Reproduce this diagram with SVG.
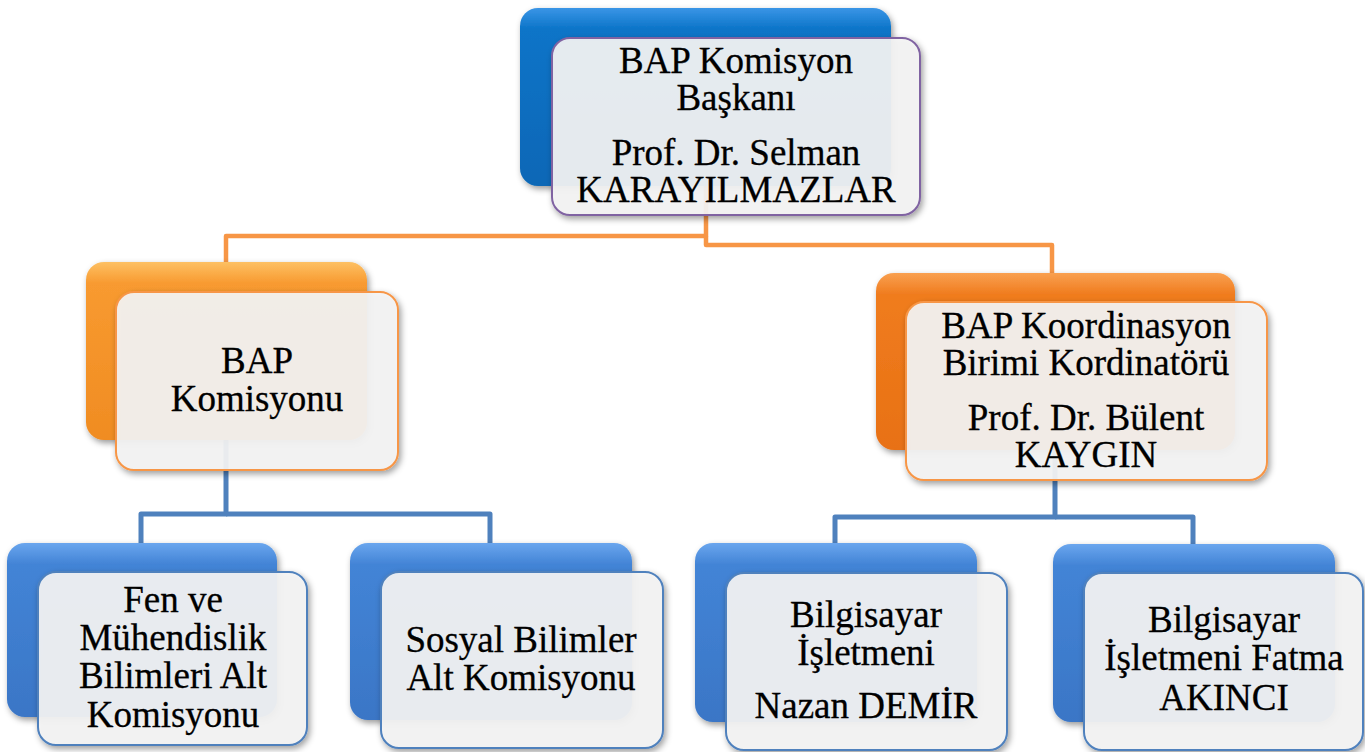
<svg xmlns="http://www.w3.org/2000/svg" width="1365" height="752" viewBox="0 0 1365 752">
<defs>
<linearGradient id="gTop" x1="0" y1="0" x2="0" y2="1">
<stop offset="0" stop-color="#3a95e6"/><stop offset="0.12" stop-color="#0b74c8"/><stop offset="1" stop-color="#0867b6"/>
</linearGradient>
<linearGradient id="gBlue" x1="0" y1="0" x2="0" y2="1">
<stop offset="0" stop-color="#6aa6ee"/><stop offset="0.12" stop-color="#4384d6"/><stop offset="1" stop-color="#3a76c6"/>
</linearGradient>
<linearGradient id="gOrL" x1="0" y1="0" x2="0" y2="1">
<stop offset="0" stop-color="#fdc063"/><stop offset="0.12" stop-color="#f89a30"/><stop offset="1" stop-color="#f08c22"/>
</linearGradient>
<linearGradient id="gOrR" x1="0" y1="0" x2="0" y2="1">
<stop offset="0" stop-color="#f9a050"/><stop offset="0.12" stop-color="#f07c1e"/><stop offset="1" stop-color="#e87114"/>
</linearGradient>
<filter id="sh" x="-10%" y="-10%" width="125%" height="130%">
<feDropShadow dx="2" dy="3" stdDeviation="3" flood-color="#000" flood-opacity="0.4"/>
</filter>
</defs>
<style>
.back{filter:url(#sh)}
.front{fill:#f4f4f4;fill-opacity:0.92;stroke-width:2;filter:url(#sh)}
.fp{stroke:#8064a2}
.fo{stroke:#f79646}
.fb{stroke:#4f81bd}
.co{fill:none;stroke:#f79646;stroke-width:4.5;stroke-linejoin:round}
.cb{fill:none;stroke:#4f81bd;stroke-width:5;stroke-linejoin:round}
text{font-family:'Liberation Serif','DejaVu Serif',serif;font-size:37px;fill:#000;stroke:#000;stroke-width:0.3;text-anchor:middle}
</style>
<g id="connectors">
<path class="co" d="M706,186 V236 H226 V264"/>
<path class="co" d="M706,236 V245 H1052 V275"/>
<path class="cb" d="M226,440 V514 H141 V545"/>
<path class="cb" d="M226,514 H490 V545"/>
<path class="cb" d="M1055,450 V517 H835 V545"/>
<path class="cb" d="M1055,517 H1193 V546"/>
</g>
<g id="n-top">
<rect class="back" x="520" y="8" width="371" height="178" rx="18" fill="url(#gTop)"/>
<rect class="front fp" x="552" y="38" width="368" height="177" rx="18"/>
<text x="736" y="73">BAP Komisyon</text>
<text x="736" y="110">Başkanı</text>
<text x="736" y="165">Prof. Dr. Selman</text>
<text x="736" y="202">KARAYILMAZLAR</text>
</g>
<g id="n-komisyon">
<rect class="back" x="86" y="262" width="281" height="178" rx="18" fill="url(#gOrL)"/>
<rect class="front fo" x="116" y="292" width="282" height="178" rx="18"/>
<text x="257" y="373">BAP</text>
<text x="257" y="411">Komisyonu</text>
</g>
<g id="n-koordinasyon">
<rect class="back" x="876" y="273" width="359" height="177" rx="18" fill="url(#gOrR)"/>
<rect class="front fo" x="906" y="302" width="361" height="178" rx="18"/>
<text x="1086" y="338">BAP Koordinasyon</text>
<text x="1086" y="375">Birimi Kordinatörü</text>
<text x="1086" y="430">Prof. Dr. Bülent</text>
<text x="1086" y="467">KAYGIN</text>
</g>
<g id="n-fen">
<rect class="back" x="7" y="543" width="270" height="174" rx="18" fill="url(#gBlue)"/>
<rect class="front fb" x="38" y="572" width="269" height="173" rx="18"/>
<text x="173" y="612">Fen ve</text>
<text x="173" y="650">Mühendislik</text>
<text x="173" y="688">Bilimleri Alt</text>
<text x="173" y="727">Komisyonu</text>
</g>
<g id="n-sosyal">
<rect class="back" x="350" y="543" width="282" height="177" rx="18" fill="url(#gBlue)"/>
<rect class="front fb" x="381" y="572" width="282" height="176" rx="18"/>
<text x="521" y="652">Sosyal Bilimler</text>
<text x="521" y="690">Alt Komisyonu</text>
</g>
<g id="n-nazan">
<rect class="back" x="695" y="543" width="282" height="179" rx="18" fill="url(#gBlue)"/>
<rect class="front fb" x="726" y="573" width="281" height="177" rx="18"/>
<text x="866" y="627">Bilgisayar</text>
<text x="866" y="665">İşletmeni</text>
<text x="866" y="718">Nazan DEMİR</text>
</g>
<g id="n-fatma">
<rect class="back" x="1053" y="544" width="282" height="178" rx="18" fill="url(#gBlue)"/>
<rect class="front fb" x="1084" y="573" width="279" height="177" rx="18"/>
<text x="1224" y="632">Bilgisayar</text>
<text x="1224" y="670">İşletmeni Fatma</text>
<text x="1224" y="710">AKINCI</text>
</g>
</svg>
